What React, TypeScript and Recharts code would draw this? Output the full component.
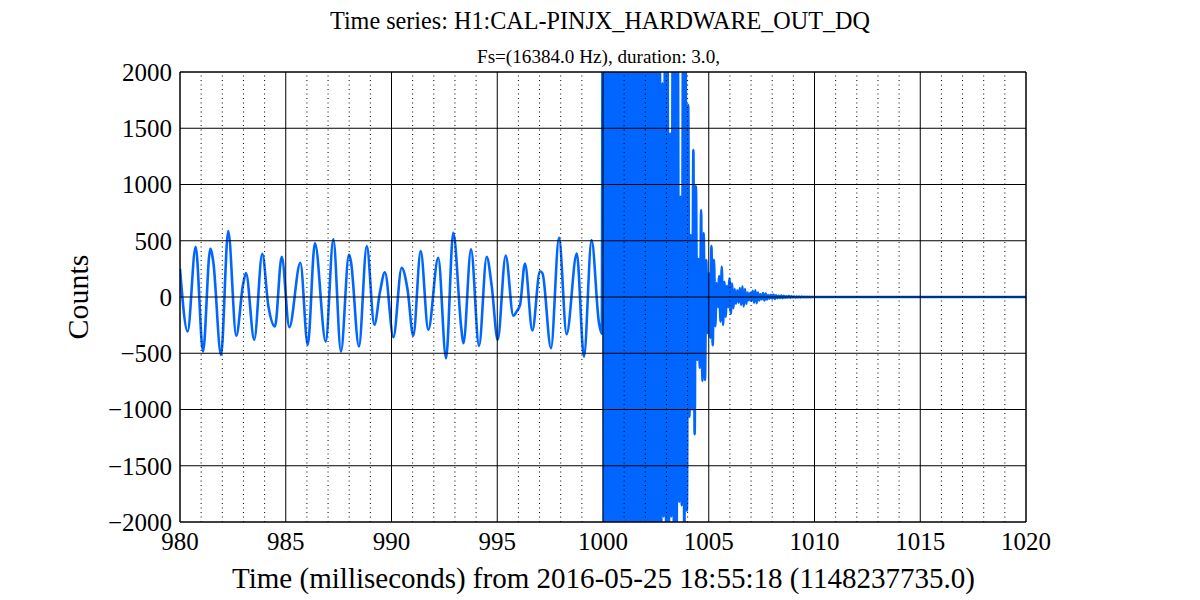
import React from "react";
import { LineChart, Line, XAxis, YAxis, CartesianGrid, ReferenceLine } from "recharts";

// ---- data ----
const FS_HZ = 16384; // sample rate shown in the subtitle
const BURST_START_MS = 1000;

// slow oscillation before the injection (extrema and shoulders)
const slowTimes = [
  980.0, 980.36, 980.74, 981.09, 981.43, 981.57, 981.94, 982.28, 982.66, 982.98,
  983.12, 983.51, 983.89, 984.18, 984.49, 984.81, 985.17, 985.69, 986.04, 986.38,
  986.89, 987.25, 987.61, 987.99, 988.08, 988.46, 988.83, 989.19, 989.46, 989.69,
  990.09, 990.48, 990.76, 991.03, 991.38, 991.74, 992.21, 992.58, 992.92, 993.3,
  993.4, 993.76, 994.14, 994.5, 994.74, 995.02, 995.4, 995.76, 995.92, 996.08,
  996.31, 996.66, 997.02, 997.14, 997.54, 997.92, 998.28, 998.76, 999.1, 999.46,
  999.81, 999.94,
];
const slowCounts = [
  250, -307, 446, -485, 429, 318, -515, 586, -345, 110,
  214, -381, 384, -83, -262, 357, -268, 304, -426, 480,
  -396, 512, -485, 378, 318, -440, 452, -247, 51, 220,
  -357, 259, 65, -345, 408, -292, 348, -545, 571, -277,
  -411, 423, -435, 357, 95, -381, 369, -167, -128, -68,
  298, -298, 229, 210, -455, 527, -330, 387, -530, 506,
  -232, -327,
];

// samples of the burst and ring-down, one per sample period from 1000 ms
const burstCounts = [
  3800, -4200, 4600, -4900, 5200, -5300, 5400, -5400, 5300, -5200,
  5100, -5000, 4900, -4800, 4700, -4600, 4500, -4400, 4300, -4200,
  4100, -4000, 3900, -3800, 3700, -3600, 3500, -3400, 3300, -3200,
  3100, -3000, 2950, -2900, 2850, -2800, 2750, -2700, 2650, -2600,
  2550, -2500, 2450, -2450, 2400, -2350, 1900, -1950, 2400, -2300,
  2300, -2250, 1450, -1950, 2300, -2300, 2350, -2300, 2300, -1820,
  890, -1850, 2400, -2300, 2200, -1900, 1707, -1064, 551, -1000,
  1307, -1220, 987, -560, 338, -631, 773, -746, 569, -738,
  329, -320, 213, -364, 453, -429, 330, -260, 124, -90,
  187, -219, 270, -249, 136, -175, 100, -90, 164, -149,
  120, -100, 70, -60, 60, -50, 80, -70, 95, -84,
  70, -60, 40, -30, 35, -35, 55, -50, 60, -54,
  40, -30, 25, -20, 36, -30, 30, -22, 18, -14,
  20, -15, 21, -18, 15, -10, 10, -8, 12, -10,
  10, -7, 6, -5, 8, -6, 6, -4, 5, -4,
  4, -3, 3, -3, 3, -2, 2, -2, 2, -1,
  1, -1, 1, 0,
];

const tailTimes = [1010.2, 1020];
const tailCounts = [0, 0];

const xTicks = [980, 985, 990, 995, 1000, 1005, 1010, 1015, 1020];
const minorXTicks = [
  981, 982, 983, 984, 986, 987, 988, 989, 991, 992, 993, 994, 996, 997, 998, 999,
  1001, 1002, 1003, 1004, 1006, 1007, 1008, 1009, 1011, 1012, 1013, 1014, 1016, 1017, 1018, 1019,
];
const yTicks = [-2000, -1500, -1000, -500, 0, 500, 1000, 1500, 2000];

const TITLE = "Time series:  H1:CAL-PINJX_HARDWARE_OUT_DQ";
const SUBTITLE = "Fs=(16384.0 Hz), duration: 3.0,";
const X_LABEL = "Time (milliseconds) from 2016-05-25 18:55:18 (1148237735.0)";
const Y_LABEL = "Counts";

// ---- build table ----
const data = [
  ...slowTimes.map((t, i) => ({ t, v: slowCounts[i] })),
  ...burstCounts.map((v, k) => ({ t: BURST_START_MS + (k * 1000) / FS_HZ, v })),
  ...tailTimes.map((t, i) => ({ t, v: tailCounts[i] })),
];

const FONT = "'Liberation Serif', 'DejaVu Serif', serif";
const W = 1200;
const H = 600;
const MARGIN = { top: 72, right: 174, bottom: 0, left: 0 };
const fmt = (v: number) => (v < 0 ? "\u2212" + Math.abs(v) : String(v));

export default function App() {
  const abs: React.CSSProperties = { position: "absolute", left: 0, top: 0 };
  return (
    <div style={{ position: "absolute", left: 0, top: 0, width: W, height: H, background: "#fff" }}>
      {/* data layer */}
      <div style={abs}>
        <LineChart width={W} height={H} data={data} margin={MARGIN}>
          <XAxis
            dataKey="t"
            type="number"
            domain={[980, 1020]}
            ticks={xTicks}
            allowDataOverflow
            height={78}
            tick={false}
            axisLine={false}
            tickLine={false}
          />
          <YAxis
            type="number"
            domain={[-2000, 2000]}
            ticks={yTicks}
            allowDataOverflow
            width={180}
            tick={false}
            axisLine={false}
            tickLine={false}
          />
          <Line
            dataKey="v"
            type="monotone"
            stroke="#0066ff"
            strokeWidth={2.6}
            strokeLinejoin="round"
            dot={false}
            isAnimationActive={false}
          />
        </LineChart>
      </div>
      {/* grid + axes layer drawn above the data, as in the reference */}
      <div style={abs}>
        <LineChart width={W} height={H} data={data} margin={MARGIN}>
          <CartesianGrid stroke="#000" strokeWidth={1} />
          {minorXTicks.map((m) => (
            <ReferenceLine key={m} x={m} stroke="#000" strokeWidth={1} strokeDasharray="1 3.5" />
          ))}
          <ReferenceLine x={1020} stroke="#000" strokeWidth={1} />
          <ReferenceLine y={2000} stroke="#000" strokeWidth={1} />
          <XAxis
            dataKey="t"
            type="number"
            domain={[980, 1020]}
            ticks={xTicks}
            allowDataOverflow
            height={78}
            tickSize={0}
            tickMargin={10}
            axisLine={{ stroke: "#000" }}
            tick={{ fontSize: 25, fill: "#000", fontFamily: FONT }}
          />
          <YAxis
            type="number"
            domain={[-2000, 2000]}
            ticks={yTicks}
            allowDataOverflow
            width={180}
            tickSize={0}
            tickMargin={8}
            axisLine={{ stroke: "#000" }}
            tickFormatter={fmt}
            tick={{ fontSize: 25, fill: "#000", fontFamily: FONT }}
          />
        </LineChart>
      </div>
      {/* titles and axis labels */}
      <svg width={W} height={H} style={{ ...abs, pointerEvents: "none" }} fontFamily={FONT}>
        <text x={600} y={29} fontSize={26} textAnchor="middle" textLength={540} lengthAdjust="spacingAndGlyphs" fill="#000">
          {TITLE}
        </text>
        <text x={598.5} y={63} fontSize={18.5} textAnchor="middle" textLength={243} lengthAdjust="spacingAndGlyphs" fill="#000">
          {SUBTITLE}
        </text>
        <text x={603.5} y={588} fontSize={30} textAnchor="middle" textLength={743} lengthAdjust="spacingAndGlyphs" fill="#000">
          {X_LABEL}
        </text>
        <text
          transform="translate(88,297) rotate(-90)"
          x={0}
          y={0}
          fontSize={30}
          textAnchor="middle"
          textLength={85}
          lengthAdjust="spacingAndGlyphs"
          fill="#000"
        >
          {Y_LABEL}
        </text>
      </svg>
    </div>
  );
}
